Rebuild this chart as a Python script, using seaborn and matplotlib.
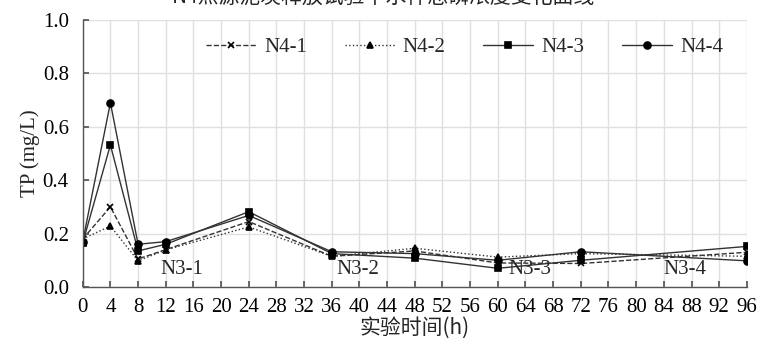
import matplotlib
matplotlib.use("Agg")
import matplotlib.pyplot as plt
import seaborn as sns
import pandas as pd

hours = [0, 4, 8, 12, 24, 36, 48, 60, 72, 96]
n4_1 = [0.18, 0.30, 0.105, 0.14, 0.245, 0.115, 0.135, 0.09, 0.088, 0.13]
n4_2 = [0.18, 0.228, 0.098, 0.139, 0.225, 0.115, 0.145, 0.112, 0.125, 0.115]
n4_3 = [0.165, 0.532, 0.135, 0.16, 0.282, 0.125, 0.108, 0.07, 0.10, 0.152]
n4_4 = [0.17, 0.69, 0.16, 0.17, 0.268, 0.132, 0.125, 0.10, 0.132, 0.098]
series_names = ["N4-1", "N4-2", "N4-3", "N4-4"]
phase_labels = ["N3-1", "N3-2", "N3-3", "N3-4"]
phase_x = [14.3, 39.8, 64.7, 87.0]
xticks = list(range(0, 97, 4))
yticks = [0.0, 0.2, 0.4, 0.6, 0.8, 1.0]
title = "N4点源泥炭释放试验中水样总磷浓度变化曲线"
xlabel = "实验时间(h)"
ylabel = "TP (mg/L)"

sns.set_theme(style="white")
plt.rcParams['font.family'] = ['Liberation Serif', 'Noto Sans CJK SC']

df = pd.DataFrame({"h": hours * 4,
                   "TP": n4_1 + n4_2 + n4_3 + n4_4,
                   "series": sum([[s] * len(hours) for s in series_names], [])})

fig = plt.figure(figsize=(7.66, 3.5), dpi=100)
ax = fig.add_axes([0.108, 0.18, 0.867, 0.763])

styles = {"N4-1": ("--", "x", 4.5),
          "N4-2": (":", "^", 4.5),
          "N4-3": ("-", "s", 4),
          "N4-4": ("-", "o", 5)}
col = "#333333"
for s in series_names:
    ls, mk, ms = styles[s]
    sub = df[df.series == s]
    sns.lineplot(data=sub, x="h", y="TP", ax=ax, color=col, linestyle=ls,
                 linewidth=1.0, marker=mk, markersize=ms, markeredgewidth=1.2,
                 markeredgecolor="black", markerfacecolor="black", label=s)

ax.set_xlim(0, 96)
ax.set_ylim(0, 1.0)
ax.set_xticks(xticks)
ax.set_yticks(yticks)
ax.set_yticklabels([f"{v:.1f}" for v in yticks])
ax.grid(True, color="#e0e0e0", linewidth=1.0)
ax.set_axisbelow(True)
for sp in ["top", "right"]:
    ax.spines[sp].set_visible(False)
for sp in ["left", "bottom"]:
    ax.spines[sp].set_color("#555555")
    ax.spines[sp].set_linewidth(1.0)
ax.tick_params(axis="both", direction="in", length=4, color="#555555",
               labelsize=15, labelcolor="black")
ax.tick_params(axis="x", bottom=True, pad=8)
ax.tick_params(axis="y", left=True, pad=10)

ax.set_xlabel(xlabel, fontsize=15, labelpad=0,
              family=['Noto Sans CJK SC', 'Liberation Serif'])
ax.set_ylabel(ylabel, fontsize=15, labelpad=2)

for lab, x in zip(phase_labels, phase_x):
    ax.text(x, 0.065, lab, ha="center", va="center", fontsize=15)

leg = ax.legend(loc="upper center", bbox_to_anchor=(0.575, 1.005), ncol=4,
                frameon=False, fontsize=15, handlelength=2.4,
                columnspacing=1.8, handletextpad=0.4)

fig.text(0.5, 1.008, title, ha="center", va="center", fontsize=15,
         family=['Noto Sans CJK SC', 'Liberation Serif'])

fig.savefig("out.png", dpi=100)
